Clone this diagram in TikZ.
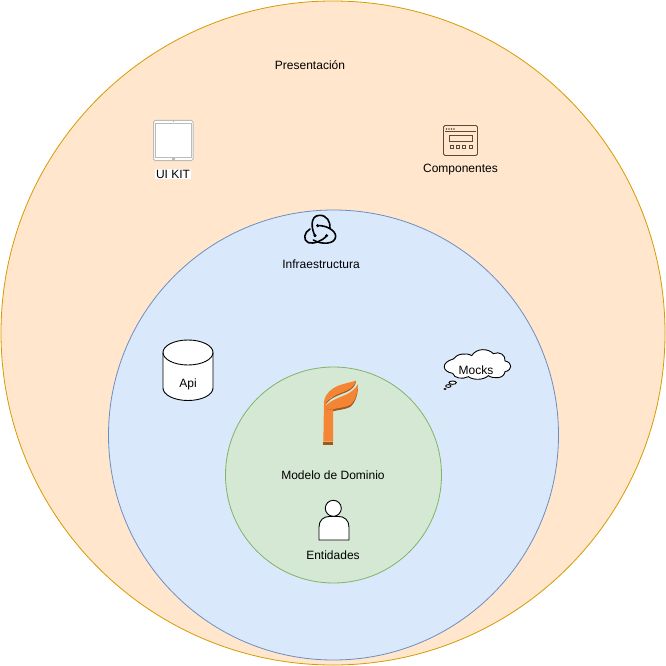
\documentclass[tikz,border=0pt]{standalone}
\usepackage{fontspec}
\setmainfont{Liberation Sans}
\definecolor{orfill}{HTML}{FFE6CC}\definecolor{orline}{HTML}{D79B00}
\definecolor{blfill}{HTML}{DAE8FC}\definecolor{blline}{HTML}{6C8EBF}
\definecolor{grfill}{HTML}{D5E8D4}\definecolor{grline}{HTML}{82B366}
\definecolor{leaf}{HTML}{F58534}\definecolor{leafdark}{HTML}{9C5A1F}
\definecolor{compo}{HTML}{5A4A3A}\definecolor{tablet}{HTML}{BBBBBB}
\tikzset{
 lbl/.style={font=\fontsize{12}{14}\selectfont,text=black,inner sep=0pt},
 layer/.style={line width=0.8pt},
 icon/.style={draw=black,fill=white,line width=0.9pt},
 zoomed/.style={x=0.3333pt,y=-0.3333pt},
}
\begin{document}
\begin{tikzpicture}[x=1pt,y=-1pt]
\useasboundingbox (0,0) rectangle (666,666);
\fill[white] (0,0) rectangle (666,666);
\draw[layer,fill=orfill,draw=orline] (333,333) circle[radius=332pt];
\draw[layer,fill=blfill,draw=blline] (333.5,435) circle[radius=225pt];
\draw[layer,fill=grfill,draw=grline] (333.5,475) circle[radius=108pt];
% tablet
\draw[draw=tablet,fill=white,line width=1pt,rounded corners=1.5pt] (153.5,120.5) rectangle (193,160.5);
\draw[draw=tablet,line width=0.9pt] (155.5,123.5) rectangle (191,157.5);
\fill[tablet] (172,157.5) rectangle (174.5,160.5);
\fill[tablet] (173,121) rectangle (173.6,122.5);
\node[lbl,fill=white,inner xsep=1pt,inner ysep=1pt] (uikit) at (173,174) {UI KIT};
% window icon
\begin{scope}[draw=compo,line width=0.9pt]
\draw[fill=orfill,rounded corners=1.5pt] (443.5,125.5) rectangle (477.5,155.5);
\draw (445,131.8) -- (476,131.8);
\draw[fill=orfill,line width=0.7pt] (449,135.8) rectangle (472.7,141.5);
\foreach \x in {451.5,457.5,464,471}{\draw[line width=0.7pt] (\x-1.6,145.2) rectangle (\x+1.6,148.6);}
\foreach \x in {446.5,449,451.5,454}{\fill[compo] (\x,129) circle[radius=0.8pt];}
\end{scope}
\node[lbl] (comp) at (460.5,170) {Componentes};
\node[lbl] (pres) at (310,65) {Presentación};
% redux
\begin{scope}[shift={(280,205)},zoomed,line width=1.6pt,draw=black,line cap=round]
\draw (105,92) .. controls (95,75) and (88,32) .. (118,31) .. controls (140,30) and (152,50) .. (150,70);
\draw (113,62) .. controls (135,60) and (168,75) .. (167,95) .. controls (165,118) and (125,120) .. (100,105);
\draw (140,92) .. controls (128,108) and (100,118) .. (85,113) .. controls (68,105) and (72,82) .. (90,72);
\fill (113,62) circle[radius=5];
\fill (105,92) circle[radius=5];
\fill (140,92) circle[radius=5];
\end{scope}
\node[lbl] (infra) at (321,264) {Infraestructura};
% cylinder
\draw[icon] (163,352.5) -- (163,388) arc[start angle=180,end angle=0,x radius=25,y radius=12.5] -- (213,352.5) arc[start angle=0,end angle=-180,x radius=25,y radius=12.5];
\draw[icon,fill=none] (163,352.5) arc[start angle=180,end angle=0,x radius=25,y radius=12.5];
\node[lbl] (api) at (188,384.5) {Api};
% cloud
\begin{scope}[shift={(430,345)},zoomed,line width=0.9pt]
\draw[icon] (70,42) .. controls (80,26) and (110,22) .. (125,32) .. controls (140,8) and (175,10) .. (190,26) .. controls (208,18) and (228,30) .. (225,48) .. controls (248,52) and (248,76) .. (225,80) .. controls (222,102) and (190,102) .. (175,92) .. controls (160,106) and (130,106) .. (115,95) .. controls (98,104) and (72,100) .. (68,85) .. controls (36,80) and (32,52) .. (70,42) -- cycle;
\draw[icon] (68,113) ellipse[x radius=11,y radius=5];
\draw[icon] (55,123) ellipse[x radius=8,y radius=4];
\fill (45,132) ellipse[x radius=5,y radius=3];
\end{scope}
\node[lbl] (mocks) at (476,370) {Mocks};
% leaf
\begin{scope}[shift={(300,370)},zoomed]
\fill[leafdark] (70,215) -- (99,215) -- (99,225) -- (70,225) -- cycle;
\fill[leafdark] (78,112) .. controls (95,96) and (120,88) .. (140,79) .. controls (155,72) and (167,61) .. (174,48) .. controls (175,71) and (165,101) .. (150,111) .. controls (135,119) and (115,119) .. (99,124) -- (78,124) -- cycle;
\fill[leafdark] (78,102) .. controls (90,84) and (115,76) .. (140,66) .. controls (155,59) and (165,49) .. (168,36) -- (168,32) -- (78,95) -- cycle;
\fill[leaf] (70,215) -- (72,95) .. controls (76,70) and (95,55) .. (115,47) .. controls (135,40) and (150,37) .. (168,32) .. controls (165,45) and (155,55) .. (140,62) .. controls (115,72) and (90,80) .. (78,98) -- (78,118) -- (99,118) -- (99,215) -- cycle;
\fill[leaf] (78,106) .. controls (95,90) and (120,82) .. (140,73) .. controls (155,66) and (167,55) .. (174,42) .. controls (175,65) and (165,95) .. (150,105) .. controls (135,113) and (115,113) .. (99,118) -- (78,118) -- cycle;
\end{scope}
\node[lbl] (model) at (333,475) {Modelo de Dominio};
% person
\draw[icon] (319,540) -- (319,527) .. controls (319,520) and (324,516.5) .. (329,516.5) -- (339,516.5) .. controls (344,516.5) and (349,520) .. (349,527) -- (349,540) -- cycle;
\draw[icon] (333.3,508.3) circle[radius=8pt];
\node[lbl] (ent) at (333,555) {Entidades};
\end{tikzpicture}
\end{document}
